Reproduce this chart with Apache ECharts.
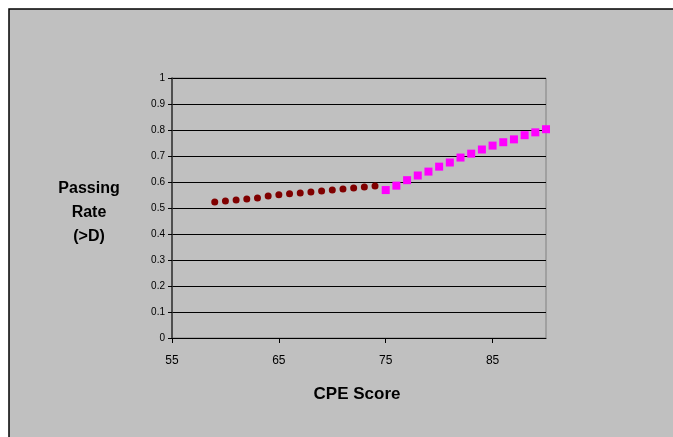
<!DOCTYPE html>
<html><head><meta charset="utf-8">
<script src="https://cdn.jsdelivr.net/npm/echarts@6/dist/echarts.min.js"></script>
<style>html,body{margin:0;padding:0;background:#fff}#c{width:673px;height:437px}</style>
</head><body><div id="c"></div>
<script>
const lowScores = [59,60,61,62,63,64,65,66,67,68,69,70,71,72,73,74];
const lowRates = [0.523,0.527,0.531,0.535,0.538,0.546,0.551,0.555,0.558,0.562,0.565,0.569,0.573,0.577,0.581,0.585];
const highScores = [75,76,77,78,79,80,81,82,83,84,85,86,87,88,89,90];
const highRates = [0.569,0.586,0.607,0.625,0.640,0.659,0.675,0.694,0.709,0.725,0.740,0.753,0.764,0.780,0.791,0.803];
const xTicks = [55,65,75,85];
const yTitle = 'Passing\nRate\n(>D)';
const xTitle = 'CPE Score';

const chart = echarts.init(document.getElementById('c'), null, {renderer:'canvas'});
chart.setOption({
  animation:false,
  backgroundColor:'#fff',
  textStyle:{fontFamily:'Liberation Sans, Arial, sans-serif'},
  graphic:[
    {type:'rect', z:-10, shape:{x:9, y:9, width:700, height:500}, style:{fill:'#c0c0c0', stroke:'#000', lineWidth:1.5}},
    {type:'text', x:89, y:213, style:{text:yTitle, align:'center', verticalAlign:'middle', font:'bold 16px "Liberation Sans", Arial, sans-serif', fill:'#000', lineHeight:24}},
    {type:'text', x:357, y:394, style:{text:xTitle, align:'center', verticalAlign:'middle', font:'bold 17px "Liberation Sans", Arial, sans-serif', fill:'#000'}}
  ],
  grid:{left:172, right:127, top:78, bottom:99, show:true, borderColor:'#808080', borderWidth:1, backgroundColor:'transparent'},
  xAxis:{
    type:'value', min:55, max:90, interval:10,
    axisLine:{show:true, lineStyle:{color:'#000', width:1}},
    axisTick:{show:true, inside:false, length:5, customValues:xTicks, lineStyle:{color:'#000'}},
    axisLabel:{customValues:xTicks, color:'#000', fontSize:12, margin:17, fontFamily:'Liberation Sans, Arial, sans-serif'},
    splitLine:{show:false}
  },
  yAxis:{
    type:'value', min:0, max:1, interval:0.1,
    axisLine:{show:true, lineStyle:{color:'#333', width:1.5}},
    axisTick:{show:true, length:4, lineStyle:{color:'#000'}},
    axisLabel:{color:'#000', fontSize:10, margin:7, fontFamily:'Liberation Sans, Arial, sans-serif'},
    splitLine:{show:true, lineStyle:{color:'#000', width:1}}
  },
  series:[
    {type:'scatter', name:'low', data:lowScores.map((x,i)=>[x,lowRates[i]]), symbol:'circle', symbolSize:7, itemStyle:{color:'#800000', opacity:1}},
    {type:'scatter', name:'high', data:highScores.map((x,i)=>[x,highRates[i]]), symbol:'rect', symbolSize:8, itemStyle:{color:'#ff00ff', opacity:1}}
  ]
});
</script></body></html>
